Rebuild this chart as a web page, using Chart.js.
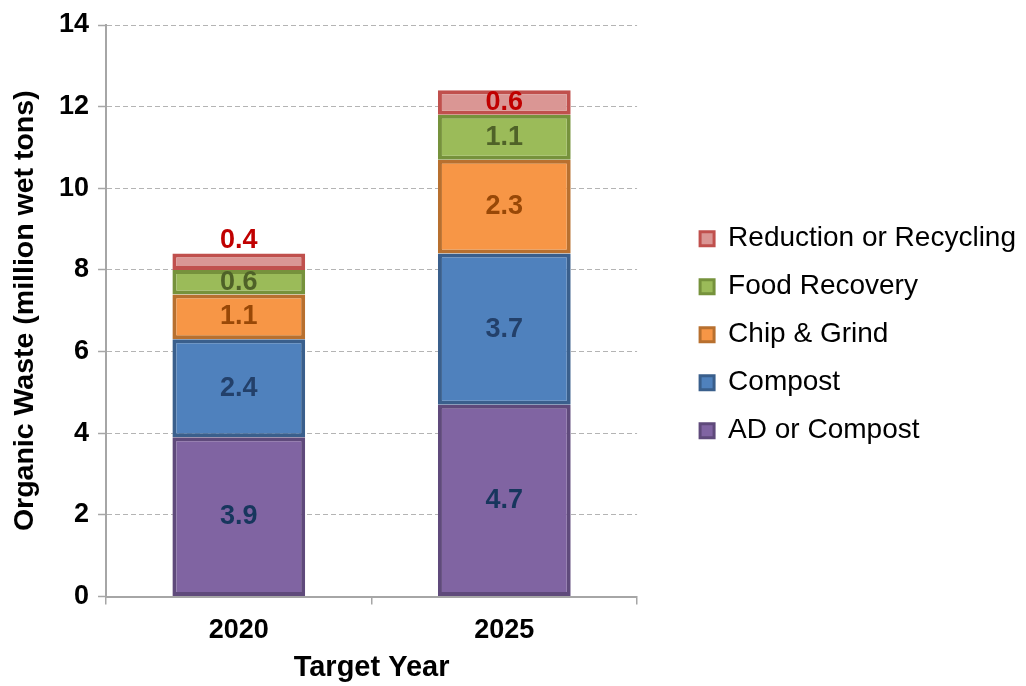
<!DOCTYPE html>
<html>
<head>
<meta charset="utf-8">
<title>Organic Waste by Target Year</title>
<script src="https://cdn.jsdelivr.net/npm/chart.js@4"></script>
<style>
  html, body { margin: 0; padding: 0; background: #fff; }
  #wrap { width: 1026px; height: 686px; }
</style>
</head>
<body>
<div id="wrap"><canvas id="wasteChart"></canvas></div>
<script>
// data (million wet tons)
const years = ['2020', '2025'];
const seriesNames = ['AD or Compost', 'Compost', 'Chip & Grind', 'Food Recovery', 'Reduction or Recycling'];
const adOrCompost = [3.9, 4.7];
const compost = [2.4, 3.7];
const chipGrind = [1.1, 2.3];
const foodRecovery = [0.6, 1.1];
const reductionRecycling = [0.4, 0.6];
const yMin = 0;
const yMax = 14;
const yStep = 2;

// styles, same order as seriesNames
const fills = ['#8064A2', '#4F81BD', '#F79646', '#9BBB59', '#DA9694'];
const borders = ['#5F4A7B', '#3A5F8C', '#B8702F', '#76923C', '#C0504D'];
const labelColors = ['#17365D', '#23406A', '#984807', '#4F6228', '#C00000'];

const FONT = '"Liberation Sans", Arial, sans-serif';
Chart.defaults.font.family = FONT;
Chart.defaults.color = '#000';

const values = [adOrCompost, compost, chipGrind, foodRecovery, reductionRecycling];

// numbers on the segments; thin segments get their number above the bar
const valueLabels = {
  id: 'valueLabels',
  afterDatasetsDraw(chart) {
    const ctx = chart.ctx;
    ctx.save();
    ctx.font = 'bold 27px ' + FONT;
    ctx.textAlign = 'center';
    ctx.textBaseline = 'middle';
    chart.data.datasets.forEach((ds, i) => {
      chart.getDatasetMeta(i).data.forEach((bar, j) => {
        const h = Math.abs(bar.base - bar.y);
        const y = h < 20 ? bar.y - 13 : (bar.y + bar.base) / 2;
        ctx.fillStyle = labelColors[i];
        ctx.fillText(ds.data[j].toFixed(1), bar.x, y);
      });
    });
    ctx.restore();
  }
};

new Chart(document.getElementById('wasteChart'), {
  type: 'bar',
  data: {
    labels: years,
    datasets: seriesNames.map((name, i) => ({
      label: name,
      data: values[i],
      backgroundColor: fills[i],
      borderColor: borders[i],
      borderWidth: 4,
      borderSkipped: false,
      barPercentage: 0.5,
      categoryPercentage: 1.0
    }))
  },
  options: {
    responsive: true,
    maintainAspectRatio: false,
    animation: false,
    layout: { padding: { top: 25, left: 0, right: 0, bottom: 0 } },
    scales: {
      x: {
        stacked: true,
        ticks: { color: '#000', font: { size: 27, weight: 'bold', lineHeight: 1 }, padding: 13 },
        grid: { display: true, drawOnChartArea: false, drawTicks: true, tickLength: 8, color: '#A6A6A6', lineWidth: 1.5, offset: true },
        border: { display: true, color: '#A6A6A6', width: 2 },
        title: {
          display: true, text: 'Target Year', color: '#000',
          font: { size: 29, weight: 'bold', lineHeight: 1 },
          padding: { top: 6, bottom: 3.5 }
        },
        afterFit(scale) { scale.height = 89.5; }
      },
      y: {
        stacked: true,
        min: yMin,
        max: yMax,
        ticks: { stepSize: yStep, color: '#000', font: { size: 27, weight: 'bold', lineHeight: 1 }, padding: 9 },
        grid: { color: '#B4B4B4', lineWidth: 1, tickLength: 8, tickColor: '#A6A6A6', tickWidth: 1.5, tickBorderDash: [] },
        border: { display: true, color: '#A6A6A6', width: 2, dash: [5, 3] },
        title: {
          display: true, text: 'Organic Waste (million wet tons)', color: '#000',
          font: { size: 28.5, weight: 'bold', lineHeight: 1 },
          padding: { top: 10.5, bottom: 11 }
        }
      },
      // spacer between the plot and the legend
      gap: {
        type: 'linear',
        position: 'right',
        display: true,
        ticks: { display: false },
        grid: { display: false },
        border: { display: false },
        afterFit(scale) { scale.width = 43; }
      }
    },
    plugins: {
      tooltip: { enabled: false },
      legend: {
        position: 'right',
        fullSize: false,
        reverse: true,
        align: 'center',
        maxWidth: 420,
        title: { display: true, text: '', font: { size: 20, lineHeight: 1 }, padding: { top: 14, bottom: 14 } },
        labels: {
          boxWidth: 14,
          boxHeight: 14,
          padding: 20,
          color: '#000',
          font: { size: 28, lineHeight: 1 },
          generateLabels(chart) {
            const items = Chart.defaults.plugins.legend.labels.generateLabels(chart);
            items.forEach(it => { it.lineWidth = 3; });
            return items;
          }
        }
      }
    }
  },
  plugins: [valueLabels]
});
</script>
</body>
</html>
